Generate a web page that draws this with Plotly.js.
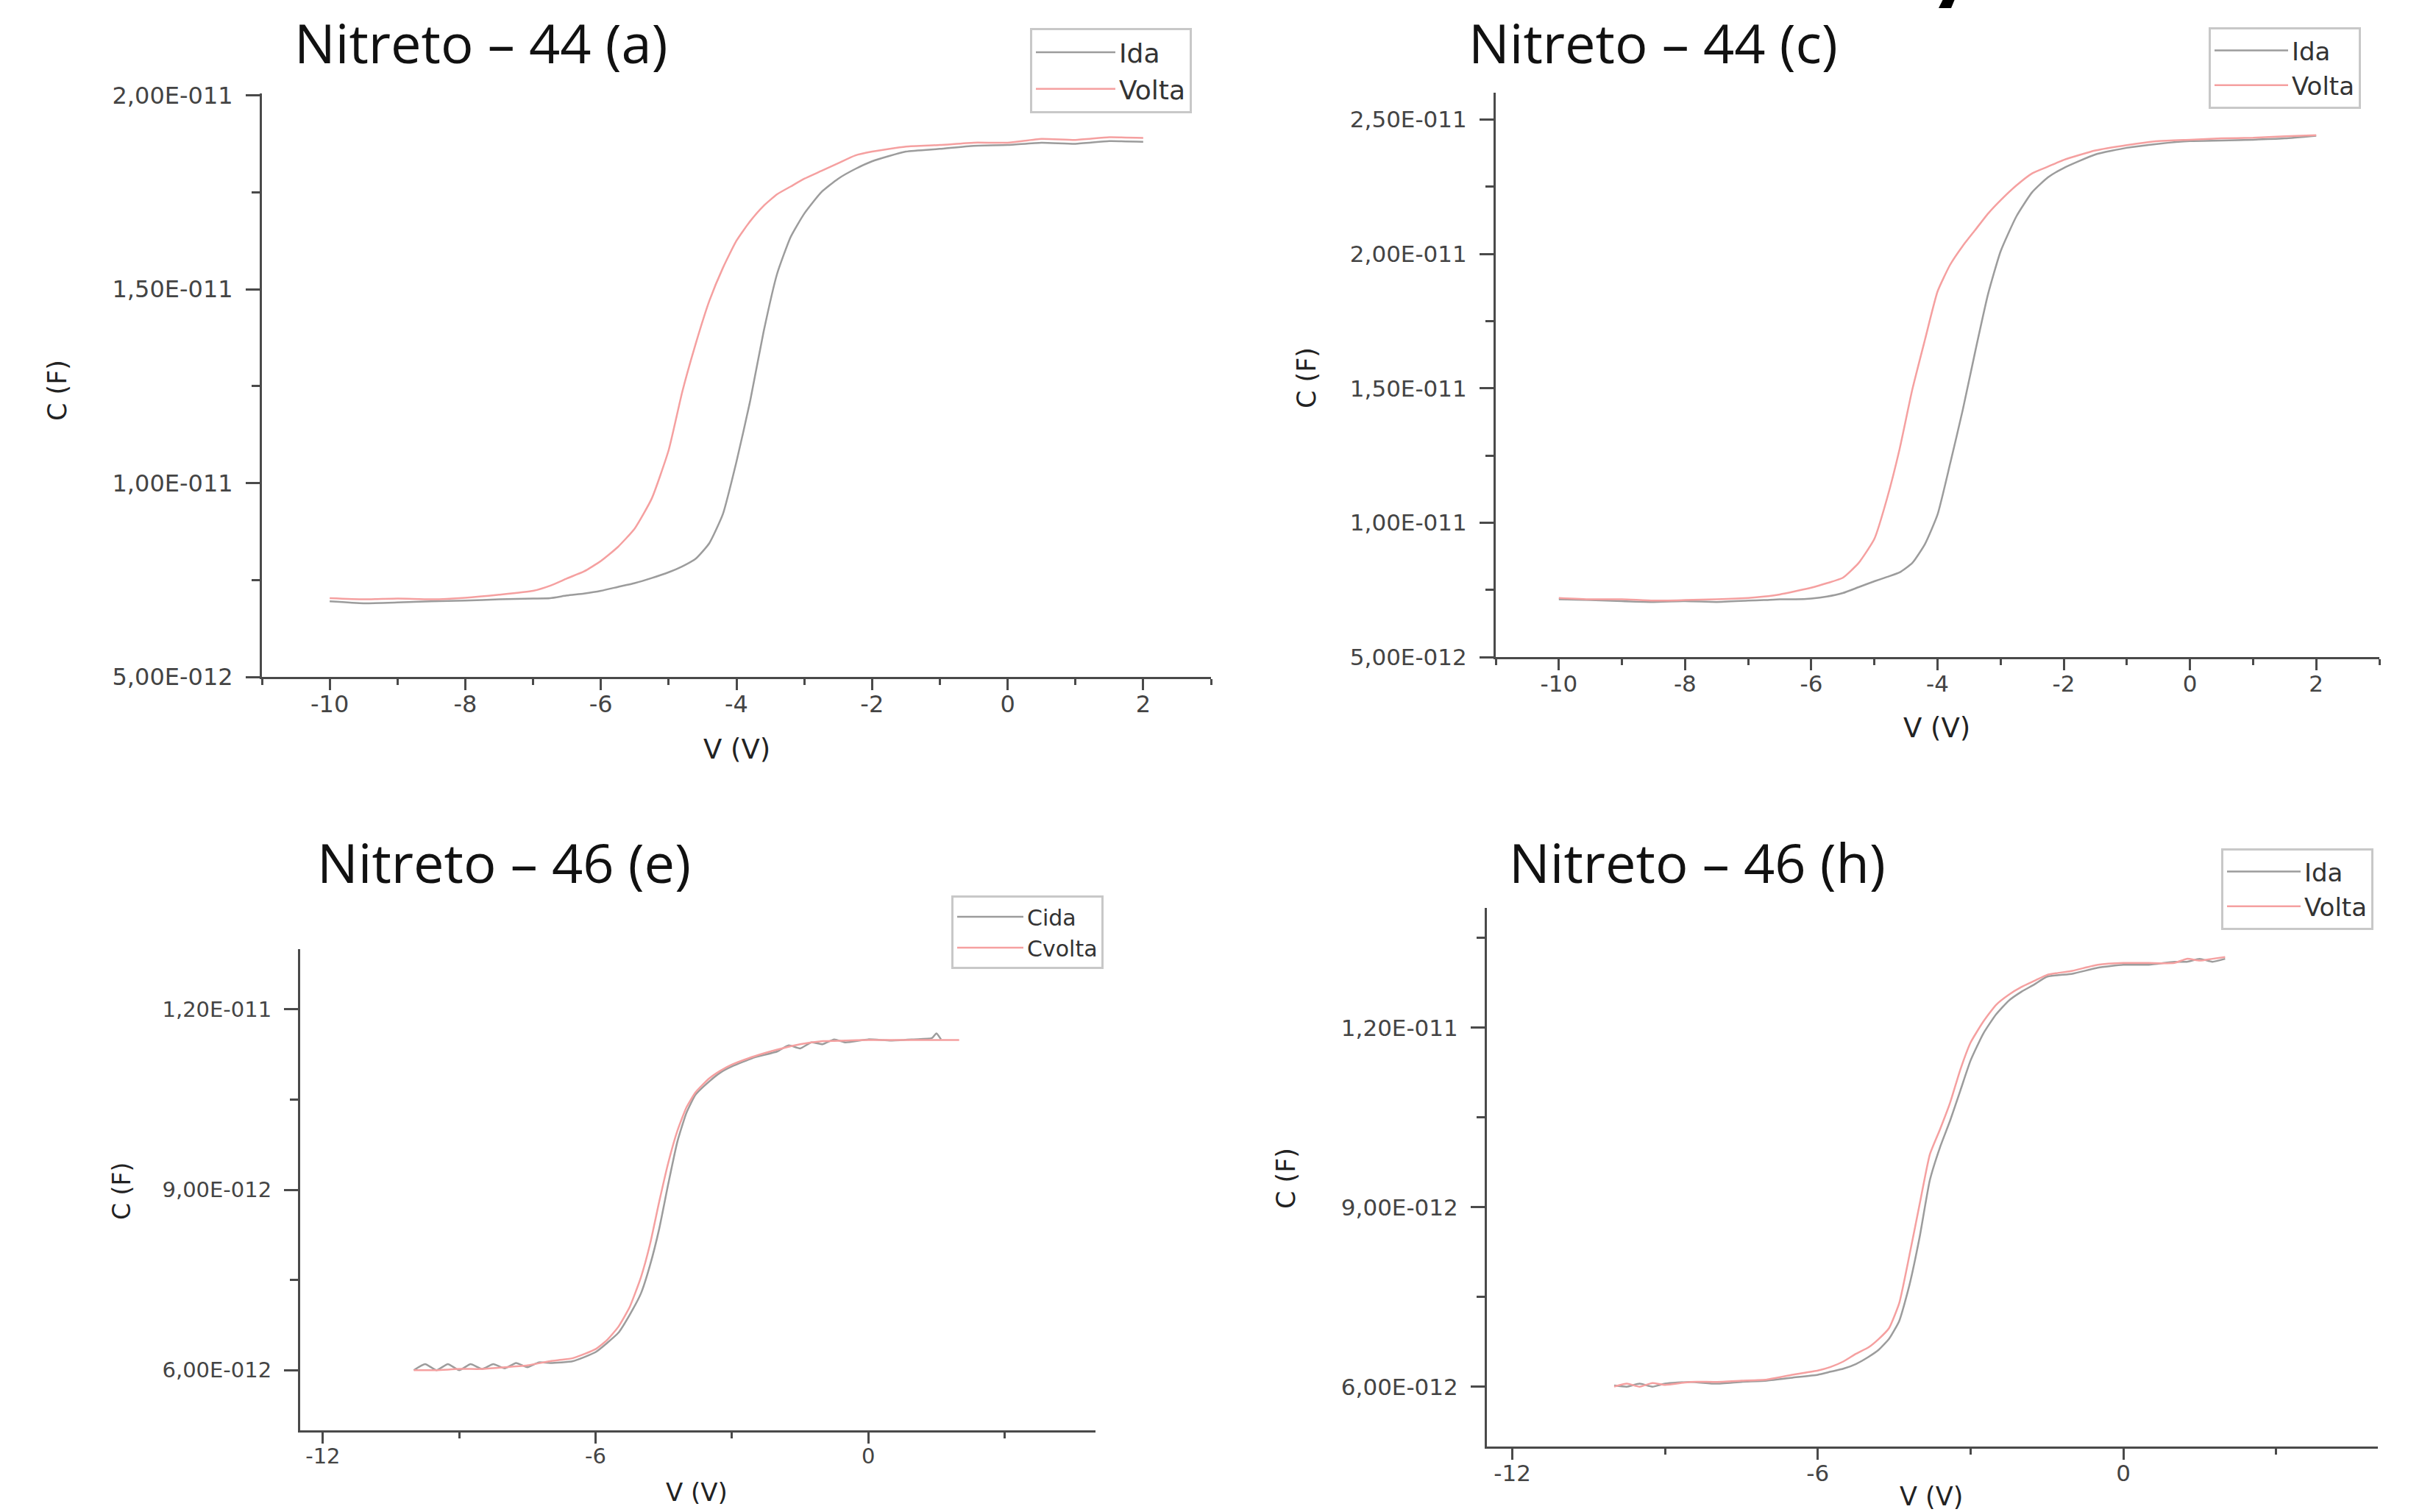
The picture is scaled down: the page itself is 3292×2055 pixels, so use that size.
<!DOCTYPE html>
<html>
<head>
<meta charset="utf-8">
<script src="https://cdn.plot.ly/plotly-3.0.1.min.js"></script>
<style>
html,body{margin:0;padding:0;background:#ffffff;}
#chart{width:3292px;height:2055px;}
</style>
</head>
<body>
<div id="chart"></div>
<script>
// ---------------- DATA (capacitance in units of 1e-12 F) ----------------
const V_44 = [-10,-9.5,-9,-8.5,-8,-7.5,-7,-6.75,-6.5,-6.25,-6,-5.75,-5.5,-5.25,-5,-4.8,-4.6,-4.4,-4.2,-4,-3.8,-3.6,-3.4,-3.2,-3,-2.75,-2.5,-2.25,-2,-1.5,-1,-0.5,0,0.5,1,1.5,2];

const Ida_a   = [6.95,6.9,6.92,6.95,6.97,7.0,7.02,7.03,7.1,7.15,7.22,7.32,7.42,7.55,7.7,7.85,8.05,8.45,9.2,10.55,12.1,13.9,15.4,16.35,16.95,17.5,17.85,18.1,18.3,18.55,18.62,18.7,18.72,18.78,18.75,18.82,18.8];
const Volta_a = [7.03,7.0,7.02,7.0,7.04,7.12,7.22,7.35,7.54,7.72,7.99,8.35,8.83,9.6,10.85,12.35,13.6,14.7,15.55,16.25,16.75,17.15,17.45,17.65,17.85,18.05,18.25,18.45,18.55,18.68,18.72,18.78,18.78,18.88,18.85,18.92,18.9];

const Ida_c   = [7.15,7.12,7.08,7.05,7.08,7.05,7.1,7.12,7.15,7.15,7.18,7.25,7.38,7.6,7.82,7.98,8.15,8.5,9.2,10.3,12.2,14.2,16.4,18.5,20.1,21.4,22.3,22.85,23.2,23.7,23.95,24.1,24.2,24.22,24.25,24.3,24.4];
const Volta_c = [7.2,7.15,7.15,7.1,7.12,7.15,7.2,7.25,7.33,7.45,7.58,7.75,7.95,8.5,9.4,10.9,12.75,14.95,16.8,18.6,19.6,20.3,20.9,21.5,22.0,22.55,23.0,23.25,23.5,23.85,24.05,24.2,24.25,24.3,24.32,24.38,24.42];

const V_e_ida = [-10,-9.75,-9.5,-9.25,-9,-8.75,-8.5,-8.25,-8,-7.75,-7.5,-7.25,-7,-6.5,-6,-5.75,-5.5,-5.25,-5,-4.8,-4.6,-4.4,-4.2,-4,-3.8,-3.5,-3.25,-3,-2.5,-2,-1.75,-1.5,-1.25,-1,-0.75,-0.5,0,0.5,1,1.4,1.5,1.6];
const Cida_e  = [6.0,6.1,6.0,6.1,6.0,6.1,6.02,6.1,6.03,6.12,6.05,6.13,6.12,6.15,6.3,6.45,6.62,6.92,7.28,7.75,8.35,9.1,9.8,10.28,10.58,10.8,10.95,11.05,11.2,11.3,11.4,11.35,11.45,11.42,11.5,11.45,11.5,11.48,11.5,11.52,11.6,11.5];
const V_e_volta = [-10,-9.5,-9,-8.5,-8,-7.5,-7,-6.5,-6,-5.75,-5.5,-5.25,-5,-4.8,-4.6,-4.4,-4.2,-4,-3.8,-3.5,-3.25,-3,-2.5,-2,-1.5,-1,-0.5,0,0.5,1,1.5,2];
const Cvolta_e = [6.0,6.0,6.02,6.02,6.05,6.08,6.15,6.2,6.35,6.5,6.72,7.05,7.55,8.1,8.8,9.45,9.98,10.37,10.62,10.85,10.98,11.08,11.22,11.33,11.42,11.47,11.48,11.49,11.49,11.49,11.49,11.49];

const V_h = [-10,-9.75,-9.5,-9.25,-9,-8.5,-8,-7.5,-7,-6.5,-6,-5.75,-5.5,-5.25,-5,-4.8,-4.6,-4.4,-4.2,-4,-3.8,-3.6,-3.4,-3.2,-3,-2.75,-2.5,-2.25,-2,-1.75,-1.5,-1,-0.5,0,0.5,1,1.25,1.5,1.75,2];
const Ida_h   = [6.02,6.0,6.05,6.0,6.05,6.08,6.05,6.08,6.1,6.15,6.2,6.25,6.3,6.38,6.5,6.62,6.8,7.1,7.7,8.5,9.45,10.0,10.45,10.95,11.45,11.9,12.22,12.45,12.6,12.72,12.85,12.9,13.0,13.05,13.05,13.1,13.1,13.15,13.1,13.15];
const Volta_h = [6.0,6.05,6.0,6.06,6.03,6.08,6.08,6.1,6.12,6.2,6.27,6.33,6.42,6.55,6.66,6.8,6.98,7.4,8.2,9.05,9.88,10.3,10.75,11.3,11.75,12.1,12.38,12.55,12.68,12.78,12.88,12.95,13.05,13.08,13.08,13.08,13.15,13.12,13.15,13.18];

// ---------------- TICKS ----------------
const xTicks44 = [-10,-8,-6,-4,-2,0,2];
const xTickText44 = ['-10','-8','-6','-4','-2','0','2'];
const xMinor44 = [-11,-9,-7,-5,-3,-1,1,3];
const yTicks_a = [5e-12,1e-11,1.5e-11,2e-11];
const yTickText_a = ['5,00E-012','1,00E-011','1,50E-011','2,00E-011'];
const yMinor_a = [7.5e-12,1.25e-11,1.75e-11];
const yTicks_c = [5e-12,1e-11,1.5e-11,2e-11,2.5e-11];
const yTickText_c = ['5,00E-012','1,00E-011','1,50E-011','2,00E-011','2,50E-011'];
const yMinor_c = [7.5e-12,1.25e-11,1.75e-11,2.25e-11];
const xTicks46 = [-12,-6,0];
const xTickText46 = ['-12','-6','0'];
const xMinor46 = [-9,-3,3];
const yTicks46 = [6e-12,9e-12,1.2e-11];
const yTickText46 = ['6,00E-012','9,00E-012','1,20E-011'];
const yMinor46 = [7.5e-12,1.05e-11,1.35e-11];

const titles = ['Nitreto \u2013 44 (a)','Nitreto \u2013 44 (c)','Nitreto \u2013 46 (e)','Nitreto \u2013 46 (h)'];
const names_44 = ['Ida','Volta'];
const names_e = ['Cida','Cvolta'];

// ---------------- HELPERS ----------------
const W = 3292, H = 2055;
const px = v => v / W;
const py = v => 1 - v / H;
const F = arr => arr.map(v => v * 1e-12);
const GRAY = '#9c9c9c', PINK = '#f5a0a0';
const AX = '#4a4a4a';

function xax(l, r, range, tv, tt, mv, fs, anchor) {
  return {domain:[px(l), px(r)], range:range, anchor:anchor, showline:true, linecolor:AX, linewidth:3,
    ticks:'outside', ticklen:15, tickwidth:3, tickcolor:AX, showgrid:false, zeroline:false,
    tickmode:'array', tickvals:tv, ticktext:tt, ticklabelstandoff:-8,
    tickfont:{family:'DejaVu Sans', size:fs, color:'#444'},
    minor:{tickmode:'array', tickvals:mv, ticks:'outside', ticklen:8, tickwidth:3, tickcolor:AX, showgrid:false}};
}
function yax(b, t, range, tv, tt, mv, fs, anchor) {
  return {domain:[py(b), py(t)], range:range, anchor:anchor, showline:true, linecolor:AX, linewidth:3,
    ticks:'outside', ticklen:19, tickwidth:3, tickcolor:AX, showgrid:false, zeroline:false,
    tickmode:'array', tickvals:tv, ticktext:tt, ticklabelstandoff:11,
    tickfont:{family:'DejaVu Sans', size:fs, color:'#444'},
    minor:{tickmode:'array', tickvals:mv, ticks:'outside', ticklen:11, tickwidth:3, tickcolor:AX, showgrid:false}};
}
function tr(x, y, name, color, xa, ya, lg) {
  return {type:'scatter', mode:'lines', x:x, y:F(y), name:name, xaxis:xa, yaxis:ya, legend:lg,
    line:{color:color, width:2.5, shape:'spline', smoothing:0.5}, hoverinfo:'skip'};
}

const data = [
  tr(V_44, Ida_a, names_44[0], GRAY, 'x', 'y', 'legend'),
  tr(V_44, Volta_a, names_44[1], PINK, 'x', 'y', 'legend'),
  tr(V_44, Ida_c, names_44[0], GRAY, 'x2', 'y2', 'legend2'),
  tr(V_44, Volta_c, names_44[1], PINK, 'x2', 'y2', 'legend2'),
  tr(V_e_ida, Cida_e, names_e[0], GRAY, 'x3', 'y3', 'legend3'),
  tr(V_e_volta, Cvolta_e, names_e[1], PINK, 'x3', 'y3', 'legend3'),
  tr(V_h, Ida_h, names_44[0], GRAY, 'x4', 'y4', 'legend4'),
  tr(V_h, Volta_h, names_44[1], PINK, 'x4', 'y4', 'legend4')
];

function leg(l, t, fs, iw) {
  return {x:px(l), y:py(t), xanchor:'left', yanchor:'top', bgcolor:'#ffffff', bordercolor:'#c8c8c8', borderwidth:3,
    font:{family:'DejaVu Sans', size:fs, color:'#333'}, itemwidth:iw, tracegroupgap:0};
}

function ann(text, x, y, size, family, opts) {
  return Object.assign({text:text, x:px(x), y:py(y), xref:'paper', yref:'paper', showarrow:false,
    font:{family:family, size:size, color:'#222'}, xanchor:'center', yanchor:'middle'}, opts || {});
}
const TF = {family:'Open Sans', size:74, color:'#111'};

const annotations = [
  ann(titles[0], 398, 57, 74, 'Open Sans', {xanchor:'left', font:TF}),
  ann(titles[1], 1994, 57, 74, 'Open Sans', {xanchor:'left', font:TF}),
  ann(titles[2], 429, 1171, 74, 'Open Sans', {xanchor:'left', font:TF}),
  ann(titles[3], 2049, 1171, 74, 'Open Sans', {xanchor:'left', font:TF}),
  ann('C (F)', 78, 531, 35, 'DejaVu Sans', {textangle:-90}),
  ann('V (V)', 1001, 1018, 37, 'DejaVu Sans'),
  ann('C (F)', 1776, 514, 35, 'DejaVu Sans', {textangle:-90}),
  ann('V (V)', 2632, 989, 37, 'DejaVu Sans'),
  ann('C (F)', 165, 1619, 33, 'DejaVu Sans', {textangle:-90}),
  ann('V (V)', 947, 2028, 34, 'DejaVu Sans'),
  ann('C (F)', 1748, 1602, 35, 'DejaVu Sans', {textangle:-90}),
  ann('V (V)', 2625, 2034, 35, 'DejaVu Sans')
];

const slash = {type:'path', xref:'paper', yref:'paper', fillcolor:'#000', line:{width:0},
  path:'M ' + px(2635) + ' ' + py(11) + ' L ' + px(2652) + ' ' + py(11) + ' L ' + px(2657) + ' ' + py(-1) + ' L ' + px(2641) + ' ' + py(-1) + ' Z'};

const layout = {
  width:W, height:H, margin:{l:0, r:0, t:0, b:0}, paper_bgcolor:'#ffffff', plot_bgcolor:'rgba(0,0,0,0)',
  showlegend:true,
  xaxis:  xax(356, 1646, [-11, 3], xTicks44, xTickText44, xMinor44, 32, 'y'),
  yaxis:  yax(920, 127, [5e-12, 2.005e-11], yTicks_a, yTickText_a, yMinor_a, 32, 'x'),
  xaxis2: xax(2033, 3234, [-11, 3], xTicks44, xTickText44, xMinor44, 31, 'y2'),
  yaxis2: yax(893, 126, [5e-12, 2.6e-11], yTicks_c, yTickText_c, yMinor_c, 31, 'x2'),
  xaxis3: xax(408, 1489, [-12.5, 5], xTicks46, xTickText46, xMinor46, 29, 'y3'),
  yaxis3: yax(1944, 1290, [5e-12, 1.3e-11], yTicks46, yTickText46, yMinor46, 29, 'x3'),
  xaxis4: xax(2021, 3232, [-12.5, 5], xTicks46, xTickText46, xMinor46, 31, 'y4'),
  yaxis4: yax(1966, 1234, [5e-12, 1.4e-11], yTicks46, yTickText46, yMinor46, 31, 'x4'),
  legend:  leg(1400, 38, 36, 108),
  legend2: leg(3002, 37, 34, 100),
  legend3: leg(1293, 1217, 30, 90),
  legend4: leg(3019, 1153, 34, 100),
  annotations: annotations,
  shapes: [slash]
};

Plotly.newPlot('chart', data, layout, {displayModeBar:false, staticPlot:true});
</script>
</body>
</html>
